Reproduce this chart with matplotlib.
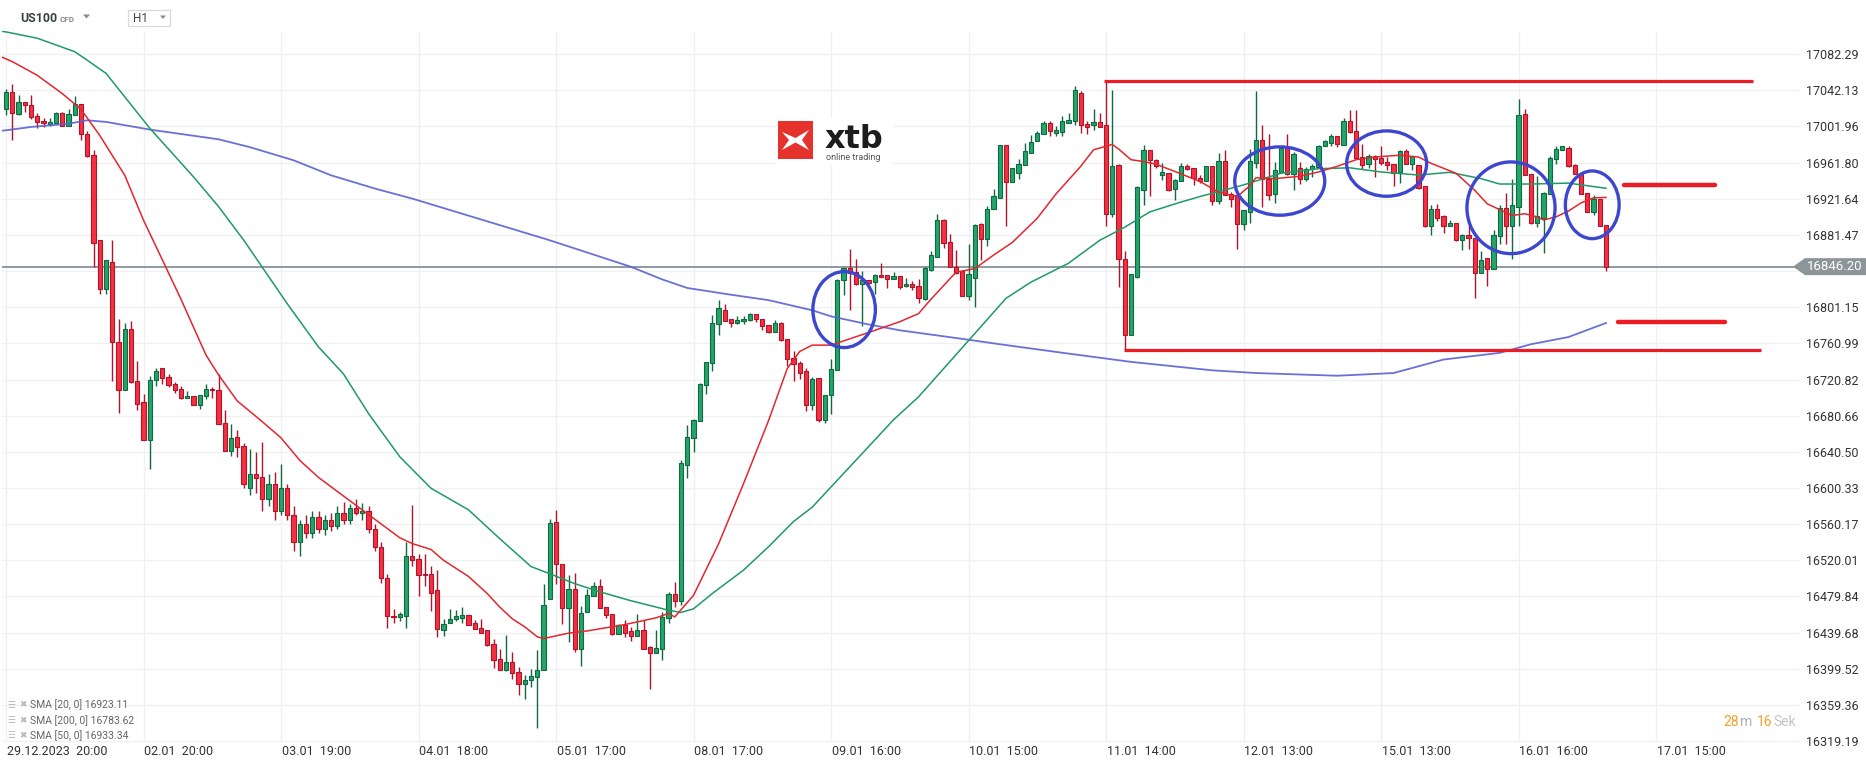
import numpy as np
import matplotlib.pyplot as plt
from matplotlib.patches import Ellipse, Polygon, Rectangle

plt.rcParams['font.family'] = ['Roboto', 'DejaVu Sans']

# hourly candles, US100 (bar index 0 = 29.12.2023 20:00)
opens = [
    17021.8, 17040.3, 17016.3, 17029.6, 17026.2, 17014.0, 17008.5, 17005.1, 17005.9, 17017.4,
    17002.9, 17015.1, 17027.4, 16994.0, 16970.7, 16875.5, 16821.5, 16851.8, 16762.6, 16708.9,
    16777.4, 16719.3, 16695.9, 16653.4, 16720.0, 16734.1, 16723.7, 16716.3, 16710.8, 16700.8,
    16703.0, 16693.0, 16703.0, 16710.8, 16709.6, 16673.0, 16641.1, 16657.0, 16647.0, 16600.0,
    16616.0, 16612.0, 16588.0, 16605.0, 16575.0, 16600.0, 16570.0, 16540.0, 16560.0, 16550.0,
    16568.0, 16555.0, 16565.0, 16558.0, 16572.0, 16565.0, 16578.0, 16572.0, 16575.0, 16555.0,
    16535.0, 16500.0, 16458.0, 16457.1, 16458.2, 16524.5, 16521.9, 16505.2, 16504.5, 16486.7,
    16442.3, 16450.8, 16454.5, 16456.3, 16459.6, 16450.8, 16445.2, 16442.3, 16427.4, 16410.8,
    16398.6, 16407.1, 16396.0, 16383.0, 16386.7, 16390.4, 16397.8, 16476.7, 16562.6, 16516.3,
    16467.4, 16488.5, 16421.9, 16462.6, 16480.4, 16491.5, 16468.2, 16460.8, 16438.5, 16447.8,
    16441.1, 16435.9, 16442.3, 16423.7, 16417.4, 16421.9, 16456.3, 16483.0, 16474.8, 16626.3,
    16656.3, 16674.4, 16715.2, 16739.6, 16782.9, 16798.5, 16787.7, 16784.0, 16785.5, 16787.4,
    16794.0, 16788.5, 16781.1, 16773.7, 16784.0, 16766.3, 16745.1, 16739.6, 16730.0, 16693.0,
    16723.0, 16675.6, 16703.3, 16731.9, 16831.8, 16844.8, 16840.4, 16826.7, 16831.1, 16829.3,
    16837.4, 16837.4, 16832.9, 16836.3, 16824.4, 16827.4, 16824.8, 16810.7, 16843.0, 16857.0,
    16897.8, 16873.7, 16845.9, 16841.5, 16813.7, 16834.1, 16893.3, 16877.4, 16910.0, 16922.9,
    16981.1, 16940.3, 16950.3, 16959.6, 16972.9, 16985.5, 16993.3, 17006.3, 16994.8, 16995.9,
    17006.3, 17008.1, 17039.2, 17004.4, 17003.3, 17007.4, 17003.3, 16905.2, 16958.9, 16855.2,
    16770.0, 16834.8, 16931.8, 16975.5, 16965.1, 16948.5, 16950.7, 16932.9, 16941.4, 16958.5,
    16956.3, 16945.2, 16941.4, 16957.7, 16919.2, 16963.3, 16927.4, 16925.5, 16894.1, 16907.0,
    16961.4, 16987.4, 16944.0, 16927.4, 16951.4, 16979.2, 16949.6, 16956.3, 16944.0, 16955.2,
    16957.0, 16980.0, 16983.7, 16991.8, 16981.8, 17008.1, 16997.0, 16968.1, 16960.7, 16969.2,
    16967.4, 16962.9, 16960.0, 16951.4, 16975.1, 16960.7, 16959.6, 16935.5, 16891.1, 16910.7,
    16902.2, 16891.5, 16895.2, 16875.5, 16881.1, 16878.5, 16839.6, 16855.5, 16844.1, 16880.3,
    16911.8, 16891.5, 16912.6, 17015.5, 16949.6, 16894.8, 16900.7, 16926.6, 16966.3, 16976.3,
    16978.5, 16959.6, 16949.6, 16928.5, 16907.0, 16921.1, 16892.9,
]
highs = [
    17044.0, 17048.8, 17036.6, 17029.6, 17037.4, 17017.4, 17011.8, 17011.8, 17018.1, 17018.1,
    17021.8, 17035.5, 17027.4, 16996.6, 16975.5, 16876.3, 16854.1, 16876.3, 16787.8, 16784.1,
    16785.6, 16741.1, 16705.2, 16724.5, 16734.1, 16734.1, 16727.4, 16718.2, 16713.3, 16707.8,
    16703.0, 16704.1, 16715.6, 16712.6, 16727.4, 16686.7, 16671.9, 16664.5, 16650.0, 16644.0,
    16640.0, 16651.0, 16616.0, 16617.5, 16627.0, 16605.0, 16580.0, 16565.0, 16570.0, 16575.0,
    16575.0, 16570.0, 16572.0, 16580.0, 16585.0, 16583.0, 16588.0, 16584.0, 16580.0, 16560.0,
    16540.0, 16505.0, 16466.0, 16462.0, 16540.4, 16581.1, 16526.7, 16527.4, 16513.3, 16508.9,
    16455.2, 16466.3, 16464.5, 16468.2, 16459.6, 16453.4, 16454.5, 16442.3, 16432.3, 16421.9,
    16436.7, 16418.2, 16401.5, 16393.0, 16399.6, 16420.8, 16493.3, 16566.3, 16575.6, 16516.3,
    16503.3, 16506.3, 16469.3, 16488.5, 16495.9, 16498.9, 16468.2, 16460.8, 16449.7, 16453.4,
    16446.0, 16460.0, 16453.4, 16424.5, 16442.3, 16462.6, 16484.8, 16495.9, 16631.1, 16670.0,
    16677.4, 16717.0, 16740.3, 16792.2, 16809.6, 16804.4, 16787.7, 16791.4, 16791.1, 16794.8,
    16794.0, 16788.5, 16781.1, 16786.6, 16784.8, 16766.3, 16752.6, 16741.1, 16733.7, 16723.7,
    16723.0, 16704.1, 16744.1, 16832.9, 16845.2, 16866.3, 16854.4, 16841.1, 16831.1, 16838.5,
    16850.7, 16837.4, 16840.4, 16836.3, 16834.1, 16830.4, 16832.9, 16845.9, 16863.7, 16904.4,
    16899.6, 16882.9, 16864.4, 16841.5, 16871.8, 16893.3, 16895.2, 16913.3, 16932.9, 16981.1,
    16981.8, 16956.3, 16966.3, 16983.7, 16992.2, 16997.0, 17007.7, 17007.7, 17002.5, 17013.7,
    17017.0, 17046.6, 17041.1, 17007.7, 17021.1, 17017.4, 17053.3, 17042.2, 16960.0, 16863.7,
    16837.8, 16935.5, 16981.8, 16976.3, 16966.3, 16961.4, 16950.7, 16944.0, 16961.4, 16960.0,
    16956.3, 16947.7, 16958.5, 16958.5, 16972.9, 16976.3, 16929.2, 16925.5, 16908.9, 16977.4,
    17041.1, 17003.3, 16994.0, 16962.6, 16978.5, 16993.3, 16973.7, 16962.6, 16957.0, 16960.7,
    16981.1, 16987.4, 16993.3, 16991.8, 17011.8, 17020.7, 17020.7, 16982.9, 16971.1, 16970.7,
    16980.0, 16968.1, 16960.0, 16975.5, 16977.4, 16969.2, 16959.6, 16935.5, 16914.4, 16916.3,
    16903.3, 16897.8, 16895.2, 16882.2, 16892.2, 16878.5, 16863.3, 16855.5, 16886.6, 16914.4,
    16928.1, 16944.0, 17032.2, 17021.8, 16949.6, 16946.6, 16929.2, 16968.9, 16980.0, 16980.0,
    16980.0, 16960.7, 16951.4, 16928.5, 16926.3, 16921.1, 16892.9,
]
lows = [
    17015.1, 16987.4, 17015.1, 17018.1, 17010.7, 17000.3, 17001.4, 17002.9, 17005.1, 17002.5,
    17002.9, 17015.1, 16987.4, 16968.1, 16845.9, 16816.3, 16816.3, 16719.3, 16683.7, 16708.9,
    16717.1, 16687.4, 16653.4, 16621.9, 16713.3, 16716.3, 16712.6, 16705.9, 16699.6, 16700.8,
    16693.0, 16687.8, 16699.6, 16700.8, 16671.9, 16641.1, 16636.0, 16634.8, 16600.0, 16592.0,
    16595.0, 16575.0, 16580.0, 16565.0, 16570.0, 16565.0, 16530.0, 16525.0, 16545.0, 16545.0,
    16550.0, 16548.0, 16552.0, 16555.0, 16560.0, 16560.0, 16570.0, 16565.0, 16550.0, 16530.0,
    16495.0, 16445.0, 16450.0, 16452.0, 16445.2, 16513.3, 16480.4, 16491.5, 16463.7, 16434.8,
    16435.9, 16450.8, 16452.3, 16450.4, 16448.5, 16444.1, 16439.6, 16424.8, 16400.4, 16398.6,
    16397.1, 16388.5, 16370.8, 16366.3, 16379.3, 16334.1, 16397.8, 16476.7, 16494.1, 16448.9,
    16429.3, 16418.2, 16402.6, 16462.6, 16480.4, 16467.4, 16455.9, 16437.4, 16438.5, 16434.8,
    16430.4, 16435.9, 16421.9, 16377.4, 16417.4, 16409.7, 16450.8, 16468.2, 16470.8, 16611.8,
    16640.4, 16674.4, 16704.4, 16730.3, 16770.0, 16785.9, 16779.2, 16782.9, 16782.9, 16785.9,
    16784.8, 16776.3, 16772.6, 16773.7, 16763.7, 16735.5, 16719.2, 16721.8, 16685.9, 16687.4,
    16673.7, 16673.0, 16682.2, 16731.9, 16814.4, 16798.5, 16825.5, 16780.0, 16826.7, 16816.3,
    16834.8, 16822.6, 16832.9, 16821.8, 16823.7, 16820.0, 16805.9, 16809.6, 16841.5, 16857.0,
    16867.4, 16845.9, 16838.5, 16813.7, 16808.9, 16801.5, 16853.3, 16868.9, 16910.0, 16922.9,
    16891.5, 16940.3, 16944.0, 16959.6, 16972.9, 16985.5, 16993.3, 16991.4, 16991.1, 16991.1,
    17005.9, 17003.3, 16995.1, 16994.0, 16997.7, 17001.4, 16891.5, 16901.5, 16823.7, 16753.3,
    16770.0, 16833.7, 16914.4, 16924.4, 16956.3, 16942.2, 16930.3, 16920.7, 16941.4, 16953.3,
    16936.6, 16939.2, 16941.4, 16914.4, 16916.3, 16926.3, 16912.6, 16865.5, 16887.4, 16894.8,
    16955.9, 16912.6, 16920.0, 16917.0, 16951.4, 16948.5, 16931.8, 16938.5, 16941.4, 16945.9,
    16957.0, 16980.0, 16980.3, 16979.2, 16981.8, 16994.8, 16966.3, 16954.4, 16956.3, 16945.9,
    16958.9, 16953.3, 16935.9, 16939.2, 16960.0, 16953.3, 16932.9, 16890.4, 16881.5, 16896.6,
    16883.7, 16891.5, 16874.8, 16865.2, 16865.5, 16811.8, 16839.6, 16824.8, 16844.1, 16871.1,
    16871.8, 16855.2, 16891.5, 16947.7, 16894.1, 16890.4, 16861.8, 16926.6, 16960.7, 16976.3,
    16957.0, 16948.9, 16927.4, 16907.0, 16904.0, 16891.5, 16841.5,
]
closes = [
    17040.3, 17017.4, 17029.6, 17026.2, 17012.5, 17007.0, 17006.3, 17007.4, 17017.4, 17002.9,
    17016.3, 17027.4, 16994.0, 16969.2, 16872.6, 16821.5, 16853.3, 16762.6, 16709.6, 16777.4,
    16718.2, 16694.1, 16653.4, 16720.7, 16730.4, 16723.0, 16714.4, 16709.6, 16700.8, 16703.0,
    16693.0, 16704.1, 16710.8, 16708.9, 16671.9, 16641.1, 16655.9, 16645.9, 16605.0, 16616.0,
    16611.0, 16588.0, 16605.0, 16575.0, 16600.0, 16570.0, 16540.0, 16560.0, 16550.0, 16568.0,
    16555.0, 16565.0, 16558.0, 16572.0, 16565.0, 16578.0, 16572.0, 16575.0, 16555.0, 16535.0,
    16500.0, 16458.0, 16457.0, 16460.0, 16524.5, 16520.8, 16503.3, 16503.3, 16484.1, 16444.1,
    16449.7, 16455.2, 16457.8, 16459.6, 16448.5, 16444.1, 16439.6, 16426.3, 16409.7, 16398.6,
    16407.1, 16395.2, 16383.0, 16387.4, 16391.5, 16397.8, 16470.8, 16561.9, 16515.6, 16467.4,
    16488.5, 16421.9, 16461.9, 16481.9, 16491.5, 16467.4, 16459.6, 16437.8, 16447.8, 16439.3,
    16435.9, 16442.3, 16421.9, 16417.1, 16423.0, 16457.1, 16483.0, 16474.8, 16628.5, 16657.0,
    16676.3, 16716.3, 16740.3, 16784.0, 16800.7, 16785.9, 16784.0, 16786.6, 16788.5, 16794.0,
    16788.5, 16780.0, 16773.7, 16784.0, 16764.4, 16744.0, 16738.5, 16728.5, 16692.9, 16721.9,
    16675.6, 16704.1, 16733.0, 16831.8, 16845.2, 16839.6, 16826.7, 16831.1, 16828.1, 16837.4,
    16834.8, 16832.9, 16836.3, 16823.7, 16827.4, 16823.7, 16811.8, 16844.8, 16858.9, 16897.8,
    16872.6, 16845.9, 16839.3, 16813.7, 16837.8, 16892.2, 16877.4, 16910.7, 16924.4, 16981.1,
    16940.3, 16956.3, 16960.7, 16974.4, 16984.8, 16994.8, 17006.3, 16997.0, 16997.7, 17007.7,
    17009.6, 17042.2, 17003.3, 17001.4, 17007.4, 17001.4, 16905.2, 16957.7, 16854.4, 16770.0,
    16837.8, 16934.8, 16975.5, 16964.4, 16957.7, 16951.1, 16931.8, 16942.2, 16958.5, 16955.2,
    16945.2, 16941.4, 16958.5, 16919.2, 16963.3, 16926.3, 16921.8, 16894.1, 16908.9, 16963.3,
    16986.6, 16943.3, 16926.3, 16953.3, 16978.1, 16949.6, 16971.8, 16944.0, 16955.2, 16957.7,
    16980.3, 16985.5, 16991.8, 16982.9, 17008.1, 16995.9, 16967.4, 16959.6, 16969.2, 16966.3,
    16961.8, 16959.6, 16950.7, 16975.1, 16960.7, 16969.2, 16934.0, 16891.5, 16910.7, 16900.3,
    16891.5, 16895.2, 16875.5, 16881.1, 16878.5, 16839.6, 16854.1, 16844.1, 16881.1, 16911.8,
    16891.5, 16915.2, 17014.4, 16948.5, 16894.8, 16902.2, 16928.5, 16967.4, 16977.4, 16980.0,
    16958.1, 16949.6, 16927.4, 16907.0, 16921.8, 16891.5, 16846.2,
]

# moving averages (bar index, value)
sma20_bar = [-1, 1, 5, 9, 12, 15, 19, 22, 25, 28, 32, 34, 37, 41, 44, 47, 50, 63, 65, 68,
             70, 74, 77, 79, 81, 83, 85, 86, 88, 90, 93, 96, 99, 104, 106, 107, 110, 114, 118, 122,
             125, 127, 129, 132, 138, 143, 146, 148, 152, 155, 158, 161, 165, 168, 172, 174, 177, 178, 180, 182,
             184, 187, 191, 194, 197, 199, 200, 203, 207, 210, 213, 216, 219, 223, 226, 228, 232, 235, 237, 241,
             243, 245, 246, 248, 250, 252, 254, 256]
sma20_val = [17080, 17074, 17058.8, 17038.5, 17021, 16992, 16947.7, 16897.8, 16854, 16810,
             16748, 16726, 16697, 16674, 16656, 16631, 16612, 16545, 16538.5, 16532,
             16520, 16502, 16483, 16468, 16455, 16446, 16435, 16433, 16436, 16439,
             16441.5, 16445, 16448.5, 16456, 16461, 16457, 16481, 16538, 16605, 16675,
             16733, 16752, 16759, 16759, 16773, 16785, 16794, 16810, 16840, 16844,
             16859, 16873, 16900, 16927, 16958, 16976, 16982, 16977, 16965, 16963,
             16960, 16952, 16941, 16929, 16924, 16936, 16945, 16944, 16946.6, 16951.4,
             16957.7, 16965, 16968, 16970, 16968, 16961, 16950, 16931, 16916, 16903,
             16905, 16901.5, 16898, 16901.5, 16908, 16917, 16922.6, 16923.1]
sma50_bar = [-1, 0, 5, 11, 13, 16, 23, 30, 34, 38, 45, 50, 54, 58, 63, 68, 74, 79, 84, 87,
             91, 95, 100, 106, 108, 110, 113, 118, 122, 126, 129, 142, 146, 154, 160, 164, 170, 175, 179, 183,
             188, 191, 198, 204, 210, 215, 220, 226, 231, 236, 239, 244, 250, 256]
sma50_val = [17108, 17107, 17100, 17085, 17075.5, 17061, 17000, 16946, 16913, 16876,
             16805, 16757, 16727, 16683, 16635, 16600, 16576, 16544, 16513, 16505,
             16494, 16485, 16475, 16464.5, 16462, 16466, 16483, 16509, 16535, 16563,
             16579, 16676, 16701.5, 16764, 16811, 16829, 16850, 16875.5, 16890, 16907,
             16918, 16924, 16937, 16950, 16955, 16956, 16951.4, 16948, 16951, 16944,
             16938, 16938, 16939, 16933.3]
sma200_bar = [-1, 0, 4, 10, 13, 16, 23, 34, 39, 46, 52, 59, 65, 87, 100, 105, 109, 116, 122, 129,
              132, 138, 143, 154, 159, 170, 180, 193, 200, 213, 222, 230, 239, 244, 250, 256]
sma200_val = [16997, 16997.7, 17001.4, 17005, 17008.8, 17007, 16998.5, 16987.7, 16979, 16964.4,
              16947.7, 16933, 16921.8, 16875.5, 16846, 16832, 16822.5, 16815, 16809, 16797.7,
              16791, 16782, 16775.5, 16765, 16760, 16749.6, 16740.4, 16731, 16728, 16725,
              16728, 16743, 16750.4, 16760, 16768, 16783.6]

grid_prices = [16319.19, 16359.36, 16399.52, 16439.68, 16479.84, 16520.01, 16560.17, 16600.33,
               16640.50, 16680.66, 16720.82, 16760.99, 16801.15, 16841.31, 16881.47, 16921.64,
               16961.80, 17001.96, 17042.13, 17082.29]
time_bars = [0, 22, 44, 66, 88, 110, 132, 154, 176, 198, 220, 242, 264]
time_labels = ['29.12.2023  20:00', '02.01  20:00', '03.01  19:00', '04.01  18:00', '05.01  17:00',
               '08.01  17:00', '09.01  16:00', '10.01  15:00', '11.01  14:00', '12.01  13:00',
               '15.01  13:00', '16.01  16:00', '17.01  15:00']

# hand-drawn annotations (bar index / price)
circle_bar = [134.1, 203.8, 220.9, 240.8, 253.8]
circle_price = [16798.5, 16941.3, 16960.7, 16911.6, 16914.9]
circle_w = [10.0, 14.4, 12.8, 14.1, 8.6]
circle_h = [84.4, 75.9, 72.6, 101.9, 75.2]
range_top, range_bottom = 17052.9, 16753.3
level_up, level_down = 16936.6, 16784.8

sma_legend = [('SMA [20, 0]', 16923.11), ('SMA [200, 0]', 16783.62), ('SMA [50, 0]', 16933.34)]

W, H = 1866, 767
fig = plt.figure(figsize=(W / 100, H / 100), dpi=100)
fig.patch.set_facecolor('white')

def fx(x):
    return x / W

def fy(y):
    return 1 - y / H

ax = fig.add_axes([fx(2), 26 / H, 1796 / W, 710 / H])
ax.set_xlim(-0.64, 286.72)
ax.set_ylim(16319.19, 16319.19 + 710 * 1.11101)
for s in ax.spines.values():
    s.set_visible(False)

GRID = '#f0f0f0'
for p in grid_prices:
    ax.axhline(p, color=GRID, lw=1.0, zorder=0, clip_on=False)
for b in time_bars:
    ax.axvline(b, color=GRID, lw=1.0, zorder=0)

ax.yaxis.tick_right()
ax.set_yticks(grid_prices)
ax.set_yticklabels(['' if abs(p - 16841.31) < 0.01 else f'{p:.2f}' for p in grid_prices])
ax.tick_params(axis='y', length=0, pad=6, labelsize=9, labelcolor='#333333')
ax.set_xticks([])

for b, t in zip(time_bars, time_labels):
    ax.text(b + 0.15, -0.006, t, transform=ax.get_xaxis_transform(), ha='left', va='top',
            fontsize=9, color='#333333')

o, h, l, c = map(np.array, (opens, highs, lows, closes))
idx = np.arange(len(o))
up = c >= o
GREEN, GREEN_E = '#23a56b', '#0f6a40'
RED, RED_E = '#f5303f', '#b0142c'
bot = np.minimum(o, c)
hgt = np.maximum(np.abs(c - o), 1.0)

last = closes[-1]
ax.axhline(last, color='#87909a', lw=1.3, zorder=2)

for m, col, ec in ((up, GREEN, GREEN_E), (~up, RED, RED_E)):
    ax.vlines(idx[m], l[m], h[m], color=ec, lw=1.0, zorder=3)
    ax.bar(idx[m], hgt[m], bottom=bot[m], width=0.68, color=col, edgecolor=ec,
           linewidth=0.8, zorder=4)

ax.plot(sma200_bar, sma200_val, color='#5a62d2', lw=1.3, zorder=5, alpha=0.9)
ax.plot(sma50_bar, sma50_val, color='#1f9a66', lw=1.1, zorder=5)
ax.plot(sma20_bar, sma20_val, color='#e4262d', lw=1.1, zorder=5)

# drawn levels
LRED = '#ec1c24'
ax.plot([175.7, 279.5], [range_top] * 2, color=LRED, lw=2.3, zorder=7, solid_capstyle='butt')
ax.plot([178.8, 280.8], [range_bottom] * 2, color=LRED, lw=2.3, zorder=7, solid_capstyle='butt')
ax.plot([258.9, 273.4], [level_up] * 2, color=LRED, lw=3.2, zorder=7, solid_capstyle='round')
ax.plot([257.9, 275.0], [level_down] * 2, color=LRED, lw=3.2, zorder=7, solid_capstyle='round')

for cx, cy, w, hh in zip(circle_bar, circle_price, circle_w, circle_h):
    ax.add_patch(Ellipse((cx, cy), w, hh, fill=False, ec='#3c46cf', lw=2.4, zorder=8))

# current price tag
yd = ax.transData.transform((0, last))[1]
tag = [(1793, yd), (1805, yd + 8.5), (W, yd + 8.5), (W, yd - 8.5), (1805, yd - 8.5)]
fig.patches.append(Polygon([(x / W, y / H) for x, y in tag], closed=True, fc='#8d9599',
                           ec='none', transform=fig.transFigure, figure=fig, zorder=5))
fig.text(fx(1807), yd / H, f'{last:.2f}', color='white', fontsize=9.5, va='center', ha='left', zorder=6)

# header
fig.text(fx(20), fy(18.5), 'US100', fontsize=8.8, fontweight='bold', color='#3a3f44', va='center')
fig.text(fx(60), fy(19.5), 'CFD', fontsize=5.8, fontweight='bold', color='#8a8a8a', va='center')
fig.patches.append(Polygon([(fx(83), fy(14.5)), (fx(90), fy(14.5)), (fx(86.5), fy(18.5))],
                           fc='#8a8a8a', ec='none', transform=fig.transFigure, figure=fig))
fig.patches.append(Rectangle((fx(128), fy(25.5)), 42 / W, 15 / H, fc='white', ec='#d9d9d9',
                             lw=0.9, transform=fig.transFigure, figure=fig))
fig.text(fx(133), fy(18.5), 'H1', fontsize=8.5, color='#444444', va='center')
fig.patches.append(Polygon([(fx(160), fy(15.5)), (fx(166), fy(15.5)), (fx(163), fy(19))],
                           fc='#8a8a8a', ec='none', transform=fig.transFigure, figure=fig))

# indicator legend
for k, (name, val) in enumerate(sma_legend):
    yy = fy(705 + 15.5 * k)
    fig.text(fx(7), yy, '\u2630', fontsize=6.5, color='#b8b8b8', va='center', family='DejaVu Sans')
    fig.text(fx(19.5), yy, '\u2716', fontsize=6.5, color='#b8b8b8', va='center', family='DejaVu Sans')
    fig.text(fx(30.5), yy, f'{name} {val:.2f}', fontsize=7.5, color='#666666', va='center')

# candle timer
ORANGE = '#f5a02a'
for x, s, col in ((1723, '28', ORANGE), (1740, 'm', '#b0b0b0'), (1757, '16', ORANGE), (1773, 'Sek', '#c4c4c4')):
    fig.text(fx(x), fy(722.5), s, fontsize=10, color=col, va='center', ha='left')

# logo
lax = fig.add_axes([fx(775), fy(165), 118 / W, 47 / H], zorder=10)
lax.set_xlim(0, 118)
lax.set_ylim(0, 47)
lax.set_xticks([])
lax.set_yticks([])
for s in lax.spines.values():
    s.set_visible(False)
lax.add_patch(Rectangle((3, 6), 35, 38, fc='#e5322d', ec='none'))
lax.add_patch(Polygon([(7, 33), (20.5, 27), (34, 35), (27, 25), (34, 15), (20.5, 22.5), (7, 15), (14, 25)],
                      fc='white', ec='none'))
lax.text(50, 17, 'xtb', fontsize=23, fontweight='bold', color='#1d1d1b', family='DejaVu Sans',
         va='baseline', ha='left')
lax.text(51, 7.5, 'online trading', fontsize=6.5, color='#555555', va='center', ha='left')

fig.savefig('out.png', dpi=100)
